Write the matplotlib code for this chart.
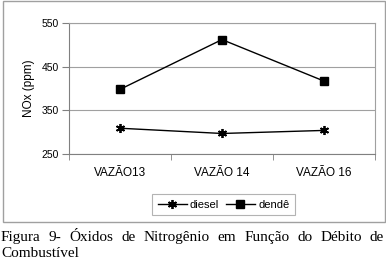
import matplotlib
matplotlib.use("Agg")
import matplotlib.pyplot as plt
from matplotlib.patches import Rectangle

categorias = ["VAZÃO13", "VAZÃO 14", "VAZÃO 16"]
diesel = [309, 297, 304]
dende = [398, 512, 417]
yticks = [250, 350, 450, 550]

legenda = "Figura 9- Óxidos de Nitrogênio em Função do Débito de"
legenda2 = "Combustível"

W, H = 386, 259
fig = plt.figure(figsize=(W/100, H/100), dpi=100)

# moldura do grafico (estilo excel)
fig.patches.append(Rectangle((3/W, 1 - 222/H), 382/W, 221/H, transform=fig.transFigure,
                             fill=False, edgecolor="#a0a0a0", linewidth=1.0))

ax = fig.add_axes([69/W, 1 - 154/H, 306/W, 131/H])
x = list(range(len(categorias)))
ax.plot(x, diesel, color="black", linewidth=1.0, marker=(6, 2, 0), markersize=6.5,
        markeredgewidth=1.3, label="diesel")
ax.plot(x, dende, color="black", linewidth=1.0, marker="s", markersize=5.5, label="dendê")

ax.set_xlim(-0.5, 2.5)
ax.set_ylim(250, 550)
ax.set_yticks(yticks)
ax.set_xticks(x)
ax.set_xticklabels(categorias)
ax.set_xticks([-0.5, 0.5, 1.5, 2.5], minor=True)
ax.tick_params(axis="x", which="major", length=0, pad=9, labelsize=8.5)
ax.tick_params(axis="x", which="minor", length=4, color="#808080")
ax.tick_params(axis="y", length=5, color="#808080", labelsize=7.5, pad=2)
for lab in ax.get_xticklabels() + ax.get_yticklabels():
    lab.set_fontfamily("Liberation Sans")
ax.grid(axis="y", color="#a0a0a0", linewidth=0.8)
ax.set_axisbelow(True)
for s in ["left", "bottom"]:
    ax.spines[s].set_color("#808080")
for s in ["top", "right"]:
    ax.spines[s].set_color("#a0a0a0")
ax.set_ylabel("NOx (ppm)", fontsize=8.5, fontfamily="Liberation Sans", labelpad=5)

leg = fig.legend(loc="center", bbox_to_anchor=(223.5/W, 1 - 204.5/H), ncol=2,
                 prop={"family": "Liberation Sans", "size": 8}, frameon=True,
                 fancybox=False, edgecolor="#a0a0a0", handlelength=2.6,
                 handletextpad=0.3, columnspacing=0.6, borderpad=0.5)
leg.get_frame().set_linewidth(0.8)

# legenda da figura, primeira linha justificada
fig.canvas.draw()
r = fig.canvas.get_renderer()
palavras = legenda.split(" ")
fp = {"family": "Liberation Serif", "size": 11}
larg = []
for p in palavras:
    t = fig.text(0, 0, p, fontdict=fp)
    larg.append(t.get_window_extent(r).width)
    t.remove()
x0, x1 = 1, 384
esp = (x1 - x0 - sum(larg)) / (len(palavras) - 1)
pos = x0
for p, w in zip(palavras, larg):
    fig.text(pos/W, 1 - 241/H, p, fontdict=fp, va="baseline")
    pos += w + esp
fig.text(x0/W, 1 - 257/H, legenda2, fontdict=fp, va="baseline")

fig.savefig("out.png", dpi=100)
